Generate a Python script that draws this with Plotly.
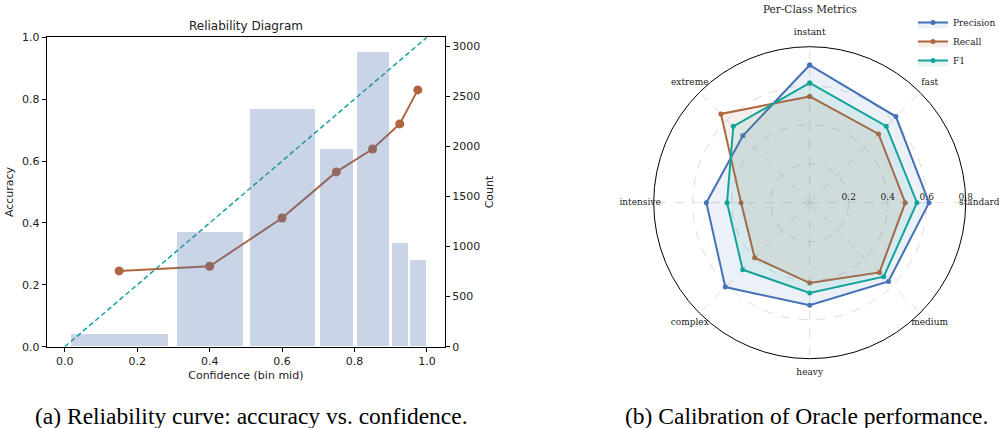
import plotly.graph_objects as go

# ---------------- data ----------------
bin_edges = [0.0, 0.3, 0.5, 0.7, 0.8, 0.9, 0.95, 1.0]
bin_mid = [0.15, 0.4, 0.6, 0.75, 0.85, 0.925, 0.975]
counts = [127, 1145, 2372, 1973, 2941, 1035, 865]
accuracy = [0.245, 0.26, 0.416, 0.565, 0.639, 0.72, 0.83]
diag = [0.0, 1.0]

classes = ["instant", "fast", "standard", "medium", "heavy", "complex", "intensive", "extreme"]
precision = [0.706, 0.625, 0.612, 0.571, 0.526, 0.612, 0.530, 0.485]
recall = [0.545, 0.499, 0.490, 0.506, 0.412, 0.399, 0.352, 0.644]
f1 = [0.614, 0.555, 0.550, 0.537, 0.463, 0.486, 0.424, 0.554]

x_ticks = [0.0, 0.2, 0.4, 0.6, 0.8, 1.0]
acc_ticks = [0.0, 0.2, 0.4, 0.6, 0.8, 1.0]
count_ticks = [0, 500, 1000, 1500, 2000, 2500, 3000]
r_ticks = [0.2, 0.4, 0.6, 0.8]

captions = ["(a) Reliability curve: accuracy vs. confidence.",
            "(b) Calibration of Oracle performance."]

BLUE = "#4472B4"
BROWN = "#B0653F"
TEAL = "#14A39B"

W, H = 999, 428
SANS = "DejaVu Sans"
SERIF = "DejaVu Serif"
TIMES = "Liberation Serif"
R_MAX = 0.8       # outer ring of the radar
LABEL_R = 0.87    # radius at which class names are centred
R2_MAX = 0.9      # range of the (invisible) label overlay

bar_w = [0.9 * (b - a) for a, b in zip(bin_edges[:-1], bin_edges[1:])]

fig = go.Figure()

# left: accuracy line + diagonal
fig.add_trace(go.Scatter(x=diag, y=diag, mode="lines",
                         line=dict(color=TEAL, width=1.5, dash="5px,3px"),
                         showlegend=False, xaxis="x", yaxis="y"))
fig.add_trace(go.Scatter(x=bin_mid, y=accuracy, mode="lines+markers",
                         line=dict(color=BROWN, width=2),
                         marker=dict(color=BROWN, size=9),
                         showlegend=False, xaxis="x", yaxis="y"))
fig.add_trace(go.Bar(x=bin_mid, y=counts, width=bar_w,
                     marker=dict(color="rgba(76,114,176,0.30)", line=dict(width=0)),
                     showlegend=False, xaxis="x", yaxis="y2"))

# right: radar
def closed(v):
    return list(v) + [v[0]]

for name, vals, col, fillc in [("Precision", precision, BLUE, "rgba(68,114,180,0.10)"),
                               ("Recall", recall, BROWN, "rgba(176,101,63,0.10)"),
                               ("F1", f1, TEAL, "rgba(20,163,155,0.10)")]:
    fig.add_trace(go.Scatterpolar(r=closed(vals), theta=closed(classes), name=name,
                                  mode="lines+markers", fill="toself", fillcolor=fillc,
                                  line=dict(color=col, width=2),
                                  marker=dict(color=col, size=5),
                                  subplot="polar"))

# class names, centred just outside the outer ring (matplotlib style)
fig.add_trace(go.Scatterpolar(r=[LABEL_R] * len(classes), theta=classes, text=classes,
                              mode="text", textposition="middle center",
                              textfont=dict(family=SERIF, size=9, color="#222"),
                              showlegend=False, hoverinfo="skip",
                              subplot="polar2"))

def fx(px):
    return px / W

def fy(py):
    return 1 - py / H

CX, CY, RAD = 809.7, 202.7, 156.0
RAD2 = RAD * R2_MAX / R_MAX

axis_common = dict(showline=True, linecolor="black", linewidth=1, ticks="outside",
                   ticklen=4, tickcolor="black", showgrid=False, zeroline=False,
                   tickfont=dict(family=SANS, size=11, color="#222"))

fig.update_layout(
    width=W, height=H,
    margin=dict(l=0, r=0, t=0, b=0, autoexpand=False),
    paper_bgcolor="white", plot_bgcolor="white",
    bargap=0,
    xaxis=dict(domain=[fx(46.7), fx(445)], range=[-0.05, 1.05], tickvals=x_ticks,
               tickformat=".1f", mirror=True,
               title=dict(text="Confidence (bin mid)", font=dict(family=SANS, size=11, color="#222"),
                          standoff=4),
               anchor="y", **axis_common),
    yaxis=dict(domain=[fy(346.7), fy(37.3)], range=[0, 1], tickvals=acc_ticks,
               tickformat=".1f",
               title=dict(text="Accuracy", font=dict(family=SANS, size=11, color="#222"),
                          standoff=6),
               anchor="x", **axis_common),
    yaxis2=dict(overlaying="y", side="right", range=[0, 2941 * 1.05], tickvals=count_ticks,
                title=dict(text="Count", font=dict(family=SANS, size=11, color="#222"),
                           standoff=6),
                anchor="x", **axis_common),
    polar=dict(
        domain=dict(x=[fx(CX - RAD), fx(CX + RAD)], y=[fy(CY + RAD), fy(CY - RAD)]),
        bgcolor="white",
        radialaxis=dict(range=[0, R_MAX], tickvals=r_ticks, angle=0, tickangle=0,
                        side="counterclockwise",
                        showline=False, ticks="", gridcolor="#dddddd", griddash="dash",
                        gridwidth=1, tickfont=dict(family=SERIF, size=9, color="#222")),
        angularaxis=dict(rotation=90, direction="clockwise", showline=True,
                         linecolor="black", linewidth=1, gridcolor="#dddddd",
                         griddash="dash", ticks="", showticklabels=False,
                         categoryarray=classes, categoryorder="array"),
    ),
    polar2=dict(
        domain=dict(x=[fx(CX - RAD2), fx(CX + RAD2)], y=[fy(CY + RAD2), fy(CY - RAD2)]),
        bgcolor="rgba(0,0,0,0)",
        radialaxis=dict(range=[0, R2_MAX], visible=False, showgrid=False),
        angularaxis=dict(rotation=90, direction="clockwise", visible=False,
                         showgrid=False, showline=False, ticks="", showticklabels=False,
                         categoryarray=classes, categoryorder="array"),
    ),
    legend=dict(x=fx(913), y=fy(8), xanchor="left", yanchor="top",
                bgcolor="rgba(0,0,0,0)", font=dict(family=SERIF, size=9, color="#222"),
                tracegroupgap=0, itemwidth=30),
    annotations=[
        dict(text="Reliability Diagram", x=fx(246), y=fy(26), xref="paper", yref="paper",
             xanchor="center", yanchor="middle",
             showarrow=False, font=dict(family=SANS, size=12, color="#222")),
        dict(text="Per-Class Metrics", x=fx(810), y=fy(9), xref="paper", yref="paper",
             xanchor="center", yanchor="middle",
             showarrow=False, font=dict(family=SERIF, size=10.5, color="#222")),
        dict(text=captions[0], x=fx(251), y=fy(416), xref="paper", yref="paper",
             xanchor="center", yanchor="middle",
             showarrow=False, font=dict(family=TIMES, size=23.5, color="black")),
        dict(text=captions[1], x=fx(806), y=fy(416), xref="paper", yref="paper",
             xanchor="center", yanchor="middle",
             showarrow=False, font=dict(family=TIMES, size=23.5, color="black")),
    ],
)

fig.write_html("out.html")
